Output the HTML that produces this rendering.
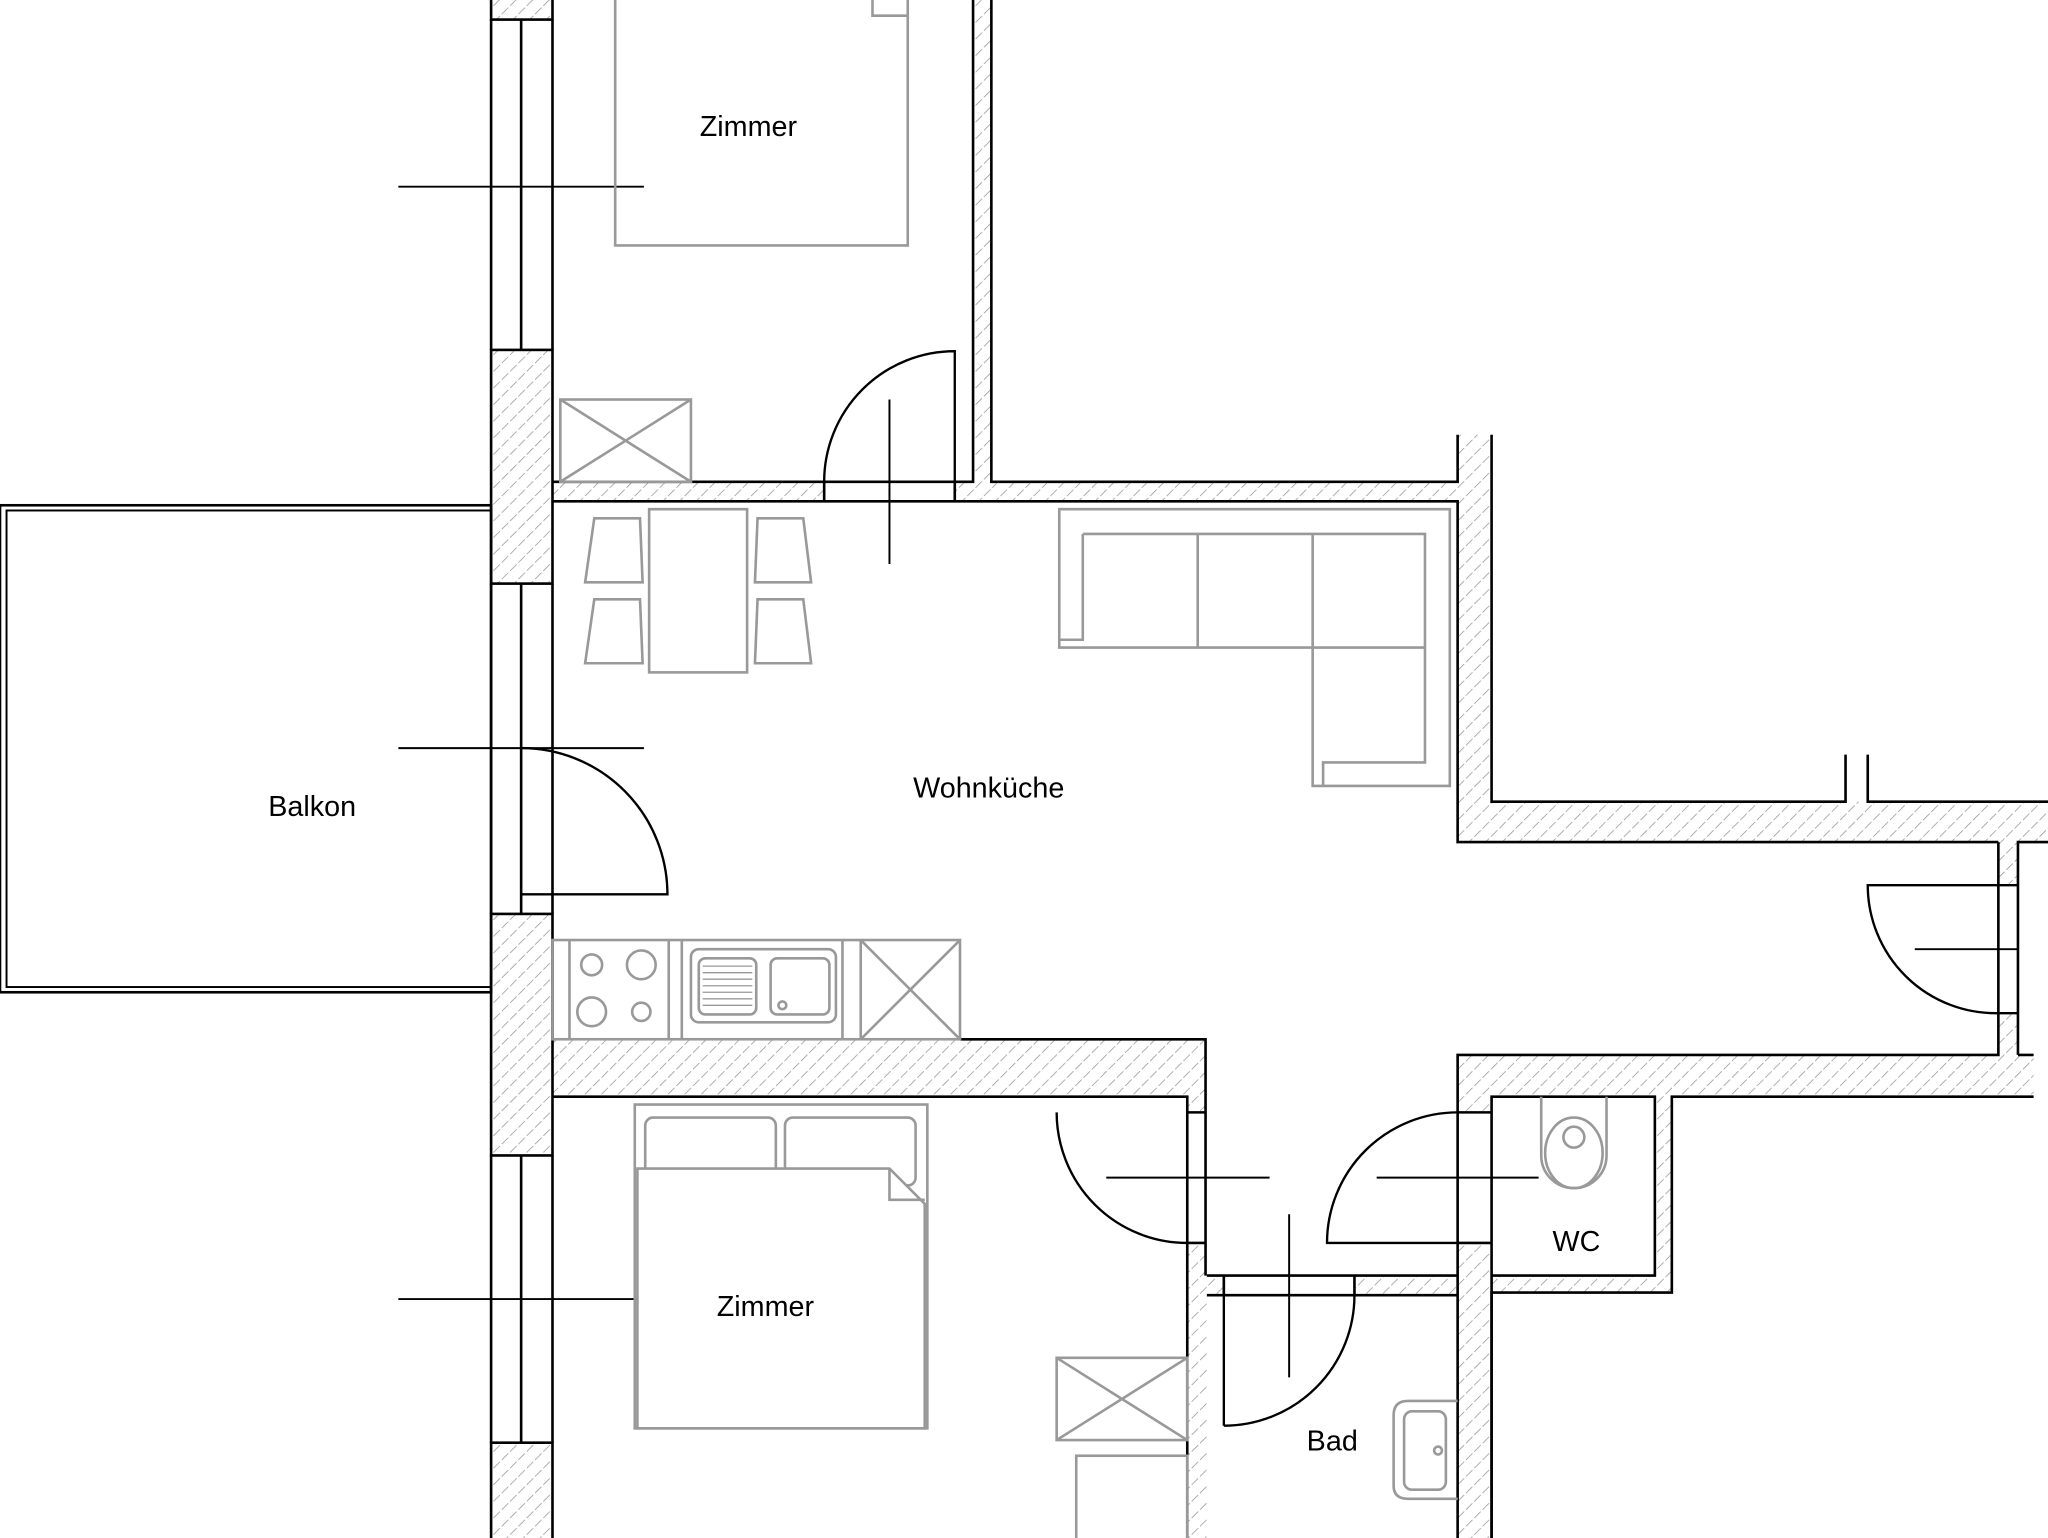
<!DOCTYPE html>
<html><head><meta charset="utf-8"><style>html,body{margin:0;padding:0;background:#fff}svg{display:block}</style></head>
<body>
<svg width="2048" height="1538" viewBox="0 0 1568 1178" preserveAspectRatio="none" xmlns="http://www.w3.org/2000/svg" font-family="Liberation Sans, sans-serif">
<defs>
<pattern id="h" width="9" height="9" patternUnits="userSpaceOnUse" patternTransform="rotate(45)">
<rect width="9" height="9" fill="#fff"/><line x1="0" y1="0" x2="0" y2="9" stroke="#999" stroke-width="1.2" stroke-dasharray="6 2"/>
</pattern>
</defs>
<g stroke="none" fill="url(#h)">
<rect x="376" y="-2" width="47" height="17"/>
<rect x="376" y="268" width="47" height="179"/>
<rect x="376" y="700" width="47" height="185"/>
<rect x="376" y="1105" width="47" height="80"/>
<rect x="423" y="369" width="208" height="15"/>
<rect x="731" y="369" width="28" height="15"/>
<rect x="745" y="-2" width="14" height="386"/>
<rect x="759" y="369" width="357" height="15"/>
<rect x="1116" y="333" width="26" height="312"/>
<rect x="1116" y="614" width="460" height="31"/>
<rect x="1530" y="645" width="15" height="33"/>
<rect x="1530" y="776" width="15" height="32"/>
<rect x="423" y="796" width="500" height="44"/>
<rect x="909" y="952" width="15" height="233"/>
<rect x="909" y="840" width="15" height="12"/>
<rect x="909" y="977" width="28" height="15"/>
<rect x="1037" y="977" width="79" height="15"/>
<rect x="1116" y="808" width="441" height="32"/>
<rect x="1116" y="952" width="26" height="233"/>
<rect x="1116" y="840" width="26" height="12"/>
<rect x="1142" y="977" width="138" height="13"/>
<rect x="1267" y="840" width="13" height="137"/>
</g>
<g stroke="#000" stroke-width="2" fill="none">
<rect x="376" y="-2" width="47" height="17"/>
<rect x="376" y="268" width="47" height="179"/>
<rect x="376" y="700" width="47" height="185"/>
<rect x="376" y="1105" width="47" height="80"/>
<line x1="399" y1="15" x2="399" y2="268"/><line x1="399" y1="447" x2="399" y2="700"/><line x1="399" y1="885" x2="399" y2="1105"/>
<line x1="376" y1="15" x2="376" y2="268"/><line x1="423" y1="15" x2="423" y2="268"/>
<line x1="376" y1="447" x2="376" y2="700"/><line x1="423" y1="447" x2="423" y2="700"/>
<line x1="376" y1="885" x2="376" y2="1105"/><line x1="423" y1="885" x2="423" y2="1105"/>
<path d="M745 -2 V369 H423"/>
<path d="M759 -2 V369 H1116 V333"/>
<path d="M1142 333 V614 H1413 V578"/>
<path d="M1430 578 V614 H1568"/>
<path d="M423 384 H1116 V645 H1530"/>
<path d="M1530 645 V808 H1116 V1178"/>
<path d="M1545 808 V645 H1568"/>
<path d="M1545 808 H1557"/>
<path d="M1557 840 H1280 V990 H1142 V1178"/>
<path d="M1142 1178 V840 H1267 V977 H1142"/>
<path d="M1116 852 H1142 M1116 952 H1142"/>
<path d="M924 977 H1116 M924 992 H1116"/>
<path d="M937 977 V992 M1037 977 V992"/>
<path d="M735 796 H923 V977"/>
<path d="M423 840 H909 V1178"/>
<path d="M909 852 H923 M909 952 H923"/>
<path d="M631 369 V384 M731 369 V384"/>
<line x1="305" y1="143" x2="493" y2="143" stroke-width="1.5"/>
<line x1="305" y1="573" x2="493" y2="573" stroke-width="1.5"/>
<line x1="305" y1="995" x2="493" y2="995" stroke-width="1.5"/>
<line x1="681" y1="306" x2="681" y2="432" stroke-width="1.5"/>
<line x1="847" y1="902" x2="972" y2="902" stroke-width="1.5"/>
<line x1="1054" y1="902" x2="1178" y2="902" stroke-width="1.5"/>
<line x1="987" y1="930" x2="987" y2="1055" stroke-width="1.5"/>
<line x1="1466" y1="727" x2="1545" y2="727" stroke-width="1.5"/>
<rect x="0" y="387" width="376" height="373"/>
<rect x="5" y="391" width="371" height="365" stroke-width="1.5"/>
<path d="M399 573 A112 112 0 0 1 511 685 L399 685" stroke-width="1.8"/>
<path d="M631 369 A100 100 0 0 1 731 269 L731 369" stroke-width="1.8"/>
<path d="M809 852 A100 100 0 0 0 909 952" stroke-width="1.8"/>
<path d="M1116 852 A100 100 0 0 0 1016 952 L1116 952" stroke-width="1.8"/>
<path d="M937 1092 A100 100 0 0 0 1037 992 M937 977 L937 1092" stroke-width="1.8"/>
<path d="M1545 678 L1430 678 A98 98 0 0 0 1530 776 H1545" stroke-width="1.8"/>
</g>
<g stroke="#999" stroke-width="2" fill="none">
<rect x="471" y="-2" width="224" height="190"/><path d="M668 -2 L668 12 L695 12"/>
<rect x="429" y="306" width="100" height="63"/><path d="M429 306 L529 369 M529 306 L429 369"/>
<rect x="497" y="390" width="75" height="125"/>
<path d="M455 397 L490 397 L492 446 L448 446 Z"/>
<path d="M455 459 L490 459 L492 508 L448 508 Z"/>
<path d="M580 397 L615 397 L621 446 L578 446 Z"/>
<path d="M580 459 L615 459 L621 508 L578 508 Z"/>
<path d="M811 390 L1110 390 L1110 602 L1005 602 L1005 496 L811 496 Z"/>
<path d="M829 409 L1091 409 L1091 584 L1013 584 L1013 602 M829 409 L829 490 L811 490 M917 409 L917 496 M1005 409 L1005 496 L1091 496"/>
<rect x="423" y="720" width="312" height="76"/>
<line x1="436" y1="720" x2="436" y2="796"/><line x1="512" y1="720" x2="512" y2="796"/>
<line x1="522" y1="720" x2="522" y2="796"/><line x1="645" y1="720" x2="645" y2="796"/><line x1="659" y1="720" x2="659" y2="796"/>
<circle cx="453" cy="739" r="8"/><circle cx="491" cy="739" r="11"/><circle cx="453" cy="775" r="11"/><circle cx="491" cy="775" r="7"/>
<rect x="529" y="727" width="111" height="56" rx="6"/><rect x="535" y="734" width="44" height="43" rx="5"/>
<rect x="590" y="734" width="45" height="43" rx="5"/><circle cx="599" cy="770" r="3"/>
<path d="M538 740 H576 M538 745 H576 M538 750 H576 M538 755 H576 M538 760 H576 M538 765 H576 M538 770 H576" stroke-width="1"/>
<path d="M659 720 L735 796 M735 720 L659 796"/>
<rect x="486" y="846" width="224" height="248"/>
<rect x="494" y="856" width="100" height="52" rx="6"/><rect x="601" y="856" width="100" height="52" rx="6"/>
<path d="M488 895 L681 895 L708 922 L708 1094 L488 1094 Z" fill="#fff"/><path d="M681 895 L681 919 L708 919"/>
<rect x="809" y="1040" width="100" height="63"/><path d="M809 1040 L909 1103 M909 1040 L809 1103"/>
<rect x="824" y="1115" width="85" height="70"/>
<path d="M1116 1073 H1078 Q1067 1073 1067 1084 V1138 Q1067 1148 1078 1148 H1116"/><rect x="1075" y="1081" width="32" height="60" rx="6"/><circle cx="1101" cy="1111" r="3"/>
<path d="M1180 840 V885 A25 25 0 0 0 1230 885 V840"/><ellipse cx="1205" cy="883" rx="22" ry="27"/><circle cx="1205" cy="871" r="8"/>
</g>
<g font-size="22" fill="#000" text-anchor="middle">
<text x="573" y="104">Zimmer</text>
<text x="239" y="625">Balkon</text>
<text x="757" y="611">Wohnküche</text>
<text x="586" y="1008">Zimmer</text>
<text x="1207" y="958">WC</text>
<text x="1020" y="1111">Bad</text>
</g>
</svg>
</body></html>
